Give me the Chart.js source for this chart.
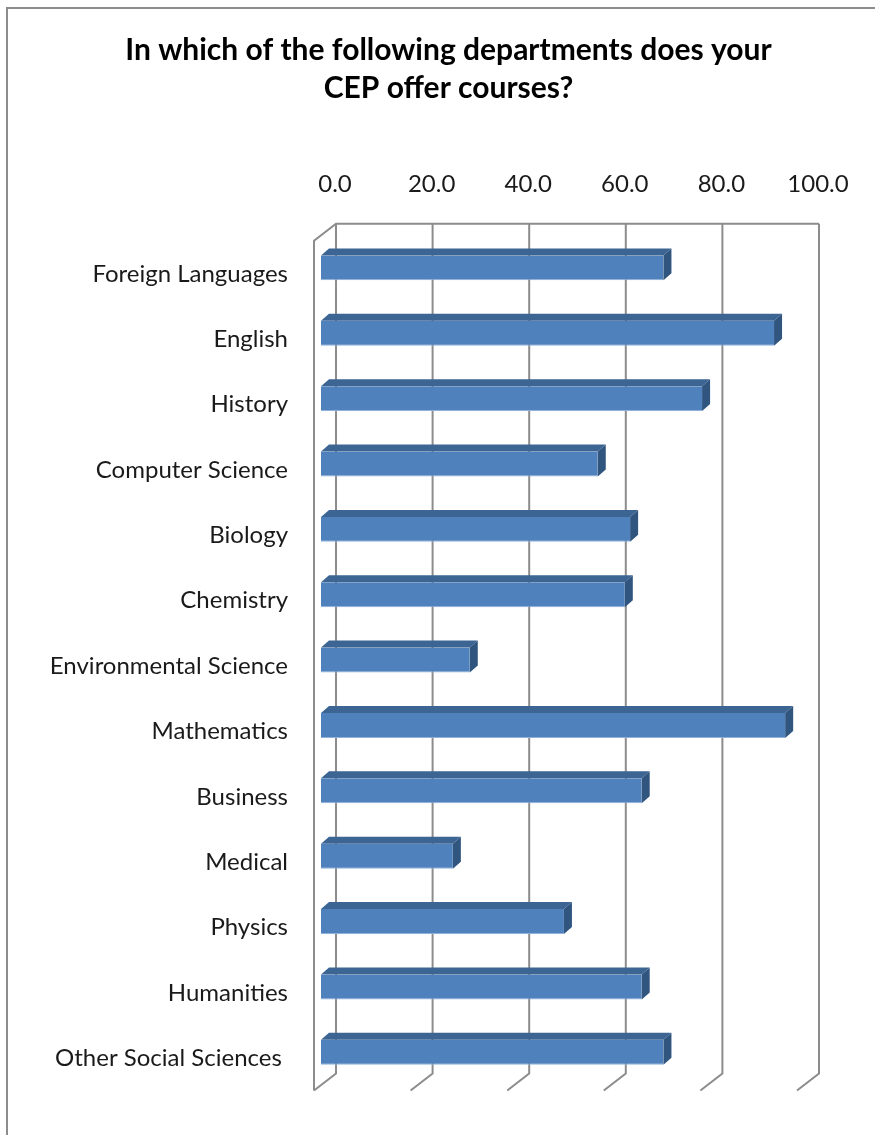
<!DOCTYPE html>
<html>
<head>
   <meta charset="utf-8">
   <script src="https://cdn.jsdelivr.net/npm/chart.js@4/dist/chart.umd.min.js"></script>
   <title>CEP departments</title>
   <style>
      body { margin: 0; overflow: hidden; background: #fff; }
      #frame {
         position: absolute; left: 6px; top: 7px;
         width: 881px; height: 1150px;
         border: 2px solid #8c8c8c;
      }
   </style>
</head>
<body>
<div id="frame">
   <canvas id="bar-chart"></canvas>
</div>
<script>
   // survey answers, percent of CEPs offering courses in each department
   const departments = ['Foreign Languages', 'English', 'History', 'Computer Science',
      'Biology', 'Chemistry', 'Environmental Science', 'Mathematics', 'Business',
      'Medical', 'Physics', 'Humanities', 'Other Social Sciences '];
   const percents = [70.9, 93.8, 78.9, 57.3, 64.0, 62.9, 30.8, 96.1, 66.4, 27.3, 50.3, 66.4, 70.9];
   const tickValues = [0, 20, 40, 60, 80, 100];
   const titleLines = ['In which of the following departments does your', 'CEP offer courses?'];

   const font = 'Lato, "DejaVu Sans", sans-serif';
   const wallColor = '#8c8c8c';
   // offsets of the back wall and the floor's front edge relative to the bar faces
   const back = { dx: 15, dy: -11.5 };
   const front = { dx: -7, dy: 5.5 };
   const barDepth = { dx: 8, dy: -7 };

   const walls = {
      id: 'walls',
      beforeDatasetsDraw(chart) {
         const { ctx, chartArea: a, scales: { x } } = chart;
         const bTop = a.top + back.dy, bBottom = a.bottom + back.dy;
         const fx0 = x.getPixelForValue(0) + front.dx;
         const bx0 = x.getPixelForValue(0) + back.dx;
         const bxMax = x.getPixelForValue(tickValues[tickValues.length - 1]) + back.dx;
         ctx.save();
         ctx.strokeStyle = wallColor;
         ctx.lineWidth = 2;
         ctx.beginPath();
         // side wall
         ctx.moveTo(fx0, a.bottom + front.dy);
         ctx.lineTo(fx0, a.top + front.dy);
         ctx.lineTo(bx0, bTop);
         ctx.lineTo(bxMax, bTop);
         // gridlines on the back wall with their floor ticks
         tickValues.forEach(v => {
            const px = x.getPixelForValue(v) + back.dx;
            ctx.moveTo(px, bTop);
            ctx.lineTo(px, bBottom);
            ctx.lineTo(px + front.dx - back.dx, bBottom + front.dy - back.dy);
         });
         ctx.stroke();
         ctx.restore();
      }
   };

   const bars3d = {
      id: 'bars3d',
      afterDatasetsDraw(chart) {
         const ctx = chart.ctx;
         const poly = (pts, color) => {
            ctx.beginPath();
            ctx.moveTo(pts[0][0], pts[0][1]);
            pts.slice(1).forEach(p => ctx.lineTo(p[0], p[1]));
            ctx.closePath();
            ctx.fillStyle = color;
            ctx.fill();
         };
         ctx.save();
         chart.getDatasetMeta(0).data.forEach(bar => {
            const { x, y, base, height } = bar.getProps(['x', 'y', 'base', 'height'], true);
            const t = y - height / 2, b = y + height / 2;
            const dx = barDepth.dx, dy = barDepth.dy;
            poly([[base, t], [base + dx, t + dy], [x + dx, t + dy], [x, t]], '#3d6594');
            poly([[x, t], [x + dx, t + dy], [x + dx, b + dy], [x, b]], '#30557f');
         });
         ctx.restore();
      }
   };

   new Chart(document.getElementById('bar-chart'), {
      type: 'bar',
      data: {
         labels: departments,
         datasets: [{
            data: percents,
            backgroundColor: '#4f81bd',
            borderColor: '#8fb0db',
            borderWidth: { left: 1, bottom: 1 },
            barPercentage: 0.382,
            categoryPercentage: 1
         }]
      },
      options: {
         indexAxis: 'y',
         responsive: true,
         maintainAspectRatio: false,
         animation: false,
         layout: { padding: { left: 0, right: 0, top: 0, bottom: 74 } },
         plugins: {
            legend: { display: false },
            tooltip: { enabled: false },
            title: {
               display: true,
               text: titleLines,
               color: '#000',
               font: { family: font, size: 30, weight: 'bold', lineHeight: 1.27 },
               padding: { top: 22, bottom: 0 }
            }
         },
         scales: {
            x: {
               position: 'top',
               min: 0,
               max: 100,
               afterBuildTicks(scale) { scale.ticks = tickValues.map(v => ({ value: v })); },
               afterFit(scale) { scale.height = 226 - 98; },
               grid: { display: false },
               border: { display: false },
               ticks: {
                  color: '#1a1a1a',
                  font: { family: font, size: 24 },
                  padding: 29,
                  labelOffset: 14,
                  maxRotation: 0,
                  callback: v => v.toFixed(1)
               }
            },
            y: {
               afterFit(scale) { scale.width = 313; },
               grid: { display: false },
               border: { display: false },
               ticks: {
                  color: '#1a1a1a',
                  font: { family: font, size: 24 },
                  padding: 25,
                  labelOffset: 6,
                  autoSkip: false
               }
            },
            // empty right-hand strip so the plot stops short of the frame edge
            spacer: {
               type: 'linear',
               position: 'right',
               afterFit(scale) { scale.width = 85; },
               grid: { display: false },
               border: { display: false },
               ticks: { display: false }
            }
         }
      },
      plugins: [walls, bars3d]
   });
</script>
</body>
</html>
